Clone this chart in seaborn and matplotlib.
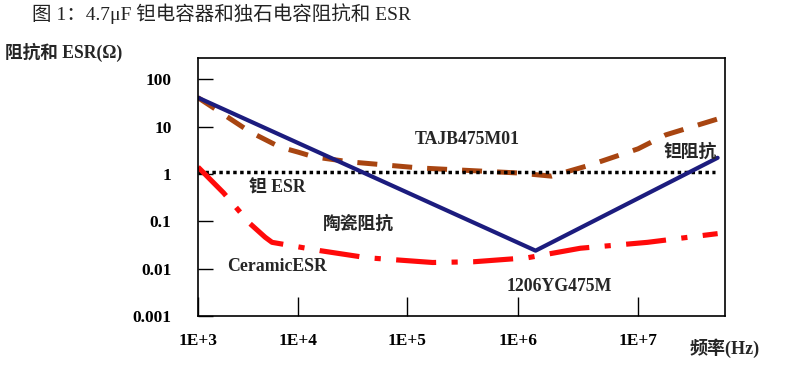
import numpy as np
import pandas as pd
import matplotlib
matplotlib.use("Agg")
import matplotlib.pyplot as plt
import seaborn as sns

# frequency (Hz) and values (ohm)
ta_imp_f = [1e3, 1.4e6, 4.6e7]
ta_imp_z = [41, 0.024, 2.2]

ta_esr_f = [1e3, 3.3e3, 6.6e3, 1e4, 1.4e4, 3e4, 1.3e5, 1e6, 1.9e6, 4e6, 1e7, 1.7e7, 4.8e7]
ta_esr_z = [41, 7.8, 3.7, 2.9, 2.3, 1.8, 1.34, 1.05, 0.9, 1.55, 3.4, 6.7, 15]

ta_esr_flat_f = [1e3, 4.4e7]
ta_esr_flat_z = [1.1, 1.1]

cer_esr_f = [1e3, 1.8e3, 3.3e3, 4.7e3, 5.5e3, 1.6e4, 4.3e4, 1.7e5, 4e5, 1.2e6, 3.3e6, 1.2e7, 4.6e7]
cer_esr_z = [1.4, 0.4, 0.09, 0.046, 0.036, 0.024, 0.017, 0.0135, 0.014, 0.017, 0.027, 0.036, 0.055]

x_ticks = [1e3, 1e4, 1e5, 1e6, 1e7]
x_labels = ["1E+3", "1E+4", "1E+5", "1E+6", "1E+7"]
y_ticks = [0.001, 0.01, 0.1, 1, 10, 100]
y_labels = ["0.001", "0.01", "0.1", "1", "10", "100"]

# the original decades are not evenly spaced
dec_knots = [3, 4, 5, 6, 7, 8]
pix_knots = [0, 100, 209, 320, 440, 560]


def fwd(x):
    return np.interp(np.log10(np.clip(x, 1e-300, None)), dec_knots, pix_knots)


def inv(p):
    return 10 ** np.interp(p, pix_knots, dec_knots)


sns.set_style("white")
fam = ["Liberation Serif", "Noto Sans CJK SC"]
plt.rcParams["font.family"] = fam

fig = plt.figure(figsize=(7.9, 3.73), dpi=100)
ax = fig.add_axes([198 / 790, 1 - 316 / 373, 527 / 790, 258 / 373])

navy = "#1c1c7e"
brown = "#a84511"
red = "#ff0a0a"

sns.lineplot(x=ta_esr_f, y=ta_esr_z, ax=ax, color=brown, lw=3.6,
             linestyle=(0, (4, 3)), dash_capstyle="butt")
sns.lineplot(x=ta_esr_flat_f, y=ta_esr_flat_z, ax=ax, color="black", lw=2.5,
             linestyle=(0, (1, 1)), dash_capstyle="butt")
sns.lineplot(x=cer_esr_f, y=cer_esr_z, ax=ax, color=red, lw=3.7,
             linestyle=(0, (7.8, 3, 1.2, 3)), dash_capstyle="butt")
sns.lineplot(x=ta_imp_f, y=ta_imp_z, ax=ax, color=navy, lw=3.0)

ax.set_xscale("function", functions=(fwd, inv))
ax.set_yscale("log")
ax.set_xlim(1e3, 5.3e7)
ax.set_ylim(0.001, 282)
ax.set_xticks(x_ticks)
ax.set_xticklabels(x_labels)
ax.set_yticks(y_ticks)
ax.set_yticklabels(y_labels)
ax.xaxis.set_minor_locator(matplotlib.ticker.NullLocator())
ax.yaxis.set_minor_locator(matplotlib.ticker.NullLocator())

ax.tick_params(axis="x", bottom=True, direction="in", length=14, width=1,
               pad=12, labelsize=12.5, colors="black")
ax.tick_params(axis="y", left=True, direction="in", length=11, width=1,
               pad=19, labelsize=12.5, colors="black")
for lab in ax.get_xticklabels() + ax.get_yticklabels():
    lab.set_fontweight("bold")
for sp in ax.spines.values():
    sp.set_visible(True)
    sp.set_color("black")
    sp.set_linewidth(1.2)
ax.set_xlabel("")
ax.set_ylabel("")

txt = dict(fontsize=12.8, fontweight="bold", ha="center", va="center", family=fam)
ax.text(3.5e5, 5.3, "TAJB475M01", **txt)
ax.text(6.2e3, 0.5, "钽 ESR", **txt)
ax.text(3.6e4, 0.09, "陶瓷阻抗", **txt)
ax.text(6.2e3, 0.011, "CeramicESR", **txt)
ax.text(2.2e6, 0.0042, "1206YG475M", **txt)
ax.text(2.7e7, 2.9, "钽阻抗", **txt)

fig.text(32 / 790, 1 - 14 / 373, "图 1：4.7μF 钽电容器和独石电容阻抗和 ESR",
         fontsize=14, ha="left", va="center", family=fam, color="#222222")
fig.text(5 / 790, 1 - 52 / 373, "阻抗和 ESR(Ω)", fontsize=12.7,
         fontweight="bold", ha="left", va="center", family=fam)
fig.text(690 / 790, 1 - 348 / 373, "频率(Hz)", fontsize=13,
         fontweight="bold", ha="left", va="center", family=fam)

fig.savefig("out.png", dpi=100)
